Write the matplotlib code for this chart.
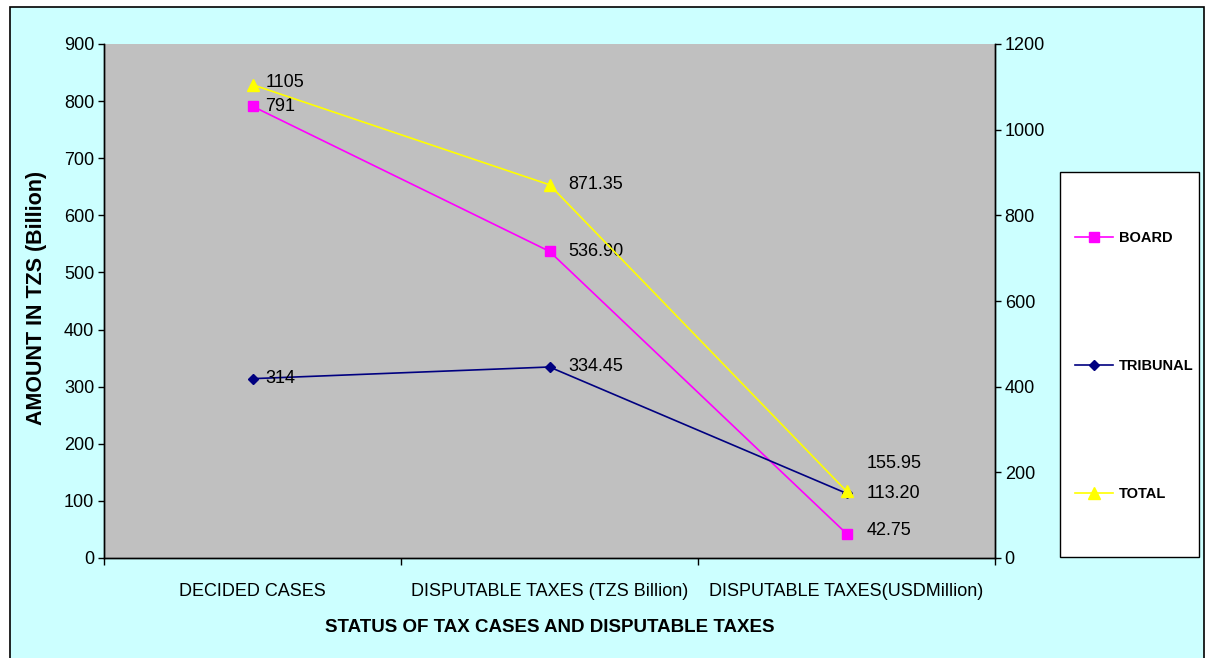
import matplotlib
matplotlib.use('Agg')
import matplotlib.pyplot as plt
from matplotlib.patches import Rectangle

# chart data
categories = ['DECIDED CASES', 'DISPUTABLE TAXES (TZS Billion)', 'DISPUTABLE TAXES(USDMillion)']
board = [791, 536.90, 42.75]
tribunal = [314, 334.45, 113.20]
total = [1105, 871.35, 155.95]
board_labels = ['791', '536.90', '42.75']
tribunal_labels = ['314', '334.45', '113.20']
total_labels = ['1105', '871.35', '155.95']

CYAN = '#CCFFFF'
GRAY = '#C0C0C0'
MAGENTA = '#FF00FF'
NAVY = '#000080'
YELLOW = '#FFFF00'

plt.rcParams['font.family'] = ['Liberation Sans', 'DejaVu Sans']

W, H = 1205, 658
fig = plt.figure(figsize=(W / 100, H / 100), dpi=100)
fig.patch.set_facecolor('white')

# outer cyan chart area with black border
fig.patches.append(Rectangle((10 / W, -0.02), 1194 / W, 1.02 - 7 / H,
                             transform=fig.transFigure, facecolor=CYAN,
                             edgecolor='black', linewidth=1.2, zorder=-10))
# legend box
fig.patches.append(Rectangle((1060 / W, 101 / H), 139 / W, 385 / H,
                             transform=fig.transFigure, facecolor='white',
                             edgecolor='black', linewidth=1, zorder=-5))

ax = fig.add_axes([104 / W, 1 - 558 / H, 891 / W, 514 / H])
ax.set_facecolor(GRAY)
ax2 = ax.twinx()

x = list(range(len(categories)))

l1, = ax.plot(x, board, color=MAGENTA, lw=1.2, marker='s', ms=6.5, zorder=3)
l2, = ax.plot(x, tribunal, color=NAVY, lw=1.2, marker='D', ms=5, zorder=3)
l3, = ax2.plot(x, total, color=YELLOW, lw=1.2, marker='^', ms=8, zorder=3)

# label offsets in pixels (dx, dy)
offs_board = [(13, 0), (19, 0), (20, 3)]
offs_trib = [(13, 0), (19, 0), (20, 0)]
offs_total = [(13, 2), (19, 0), (20, 28)]

def put_labels(a, ys, labels, offs):
    for xi, yi, t, (dx, dy) in zip(x, ys, labels, offs):
        a.annotate(t, (xi, yi), xytext=(dx, dy), textcoords='offset pixels',
                   ha='left', va='center', fontsize=13, color='black', zorder=5)

put_labels(ax, board, board_labels, offs_board)
put_labels(ax, tribunal, tribunal_labels, offs_trib)
put_labels(ax2, total, total_labels, offs_total)

ax.set_xlim(-0.5, 2.5)
ax.set_ylim(0, 900)
ax2.set_ylim(0, 1200)
ax.set_yticks(range(0, 901, 100))
ax2.set_yticks(range(0, 1201, 200))

ax.set_xticks([-0.5, 0.5, 1.5, 2.5])
ax.set_xticklabels([])
ax.set_xticks(x, minor=True)
ax.set_xticklabels(categories, minor=True, fontsize=13)
ax.tick_params(axis='x', which='major', direction='out', length=5, width=1)
ax.tick_params(axis='x', which='minor', length=0, pad=18)
ax.tick_params(axis='y', direction='out', length=4, width=1, labelsize=13, pad=3)
ax2.tick_params(axis='y', direction='out', length=4, width=1, labelsize=13, pad=3)

for a in (ax, ax2):
    for s in a.spines.values():
        s.set_color('black')
        s.set_linewidth(1)
ax.spines['top'].set_visible(False)
ax2.spines['top'].set_visible(False)

ax.set_ylabel('AMOUNT IN TZS (Billion)', fontsize=15.5, fontweight='bold')
ax.yaxis.set_label_coords(-0.064, 0.505)
ax.set_xlabel('STATUS OF TAX CASES AND DISPUTABLE TAXES', fontsize=13.5, fontweight='bold')
ax.xaxis.set_label_coords(0.5, -0.119)

leg = fig.legend([l1, l2, l3], ['BOARD', 'TRIBUNAL', 'TOTAL'],
                 loc='center left', bbox_to_anchor=(1075 / W, 292 / H),
                 frameon=False, borderpad=0, borderaxespad=0, labelspacing=7.8,
                 handlelength=2.6, handletextpad=0.4,
                 prop={'weight': 'bold', 'size': 10.5})

fig.savefig('out.png', dpi=100, facecolor=fig.get_facecolor())
